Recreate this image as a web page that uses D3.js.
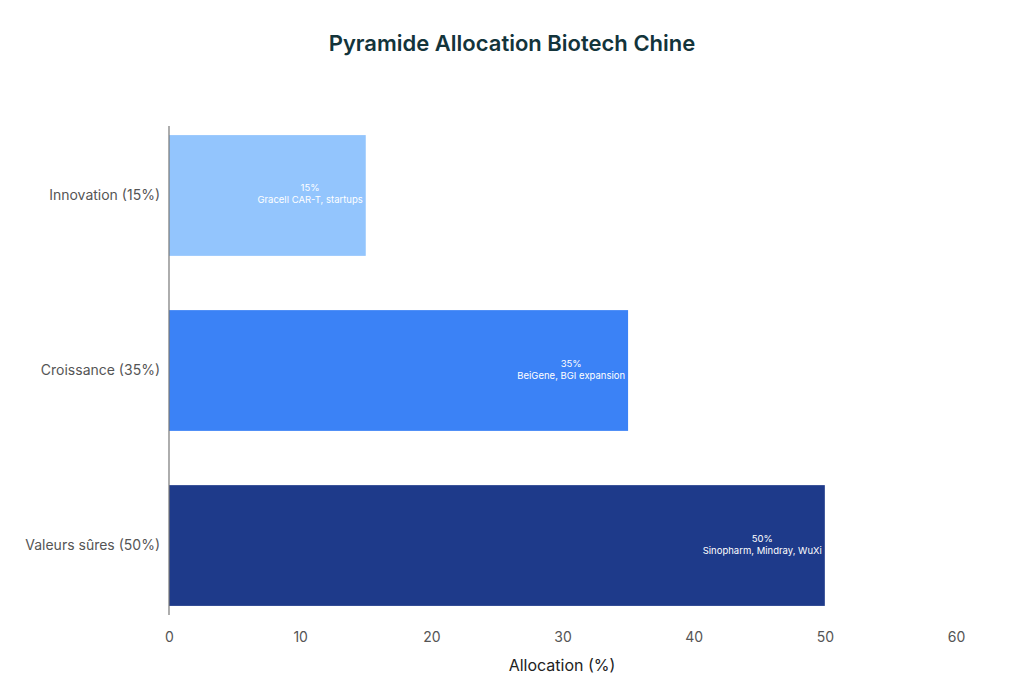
<!DOCTYPE html>
<html><head><meta charset="utf-8">
<script src="https://cdn.jsdelivr.net/npm/d3@7"></script>
<style>body{margin:0;background:#fff;font-family:Inter,"Noto Sans",sans-serif}</style>
</head><body><svg id="c" width="1024" height="683"></svg>
<script>
const categories = ["Innovation (15%)", "Croissance (35%)", "Valeurs sûres (50%)"];
const values = [15, 35, 50];
const labels = [["15%", "Gracell CAR-T, startups"], ["35%", "BeiGene, BGI expansion"], ["50%", "Sinopharm, Mindray, WuXi"]];
const colors = ["#93c5fd", "#3b82f6", "#1e3a8a"];
const ticks = [0, 10, 20, 30, 40, 50, 60];

const svg = d3.select("#c");
const x = d3.scaleLinear().domain([0, 60]).range([169, 956]);
const y = d3.scaleBand().domain(categories).range([126, 615]).paddingInner(0.31).paddingOuter(0.052);

svg.append("text").attr("x", 512).attr("y", 51).attr("text-anchor", "middle")
  .attr("font-size", 22).attr("font-weight", 600).attr("fill", "#13343b").text("Pyramide Allocation Biotech Chine");

svg.selectAll("rect.bar").data(values).join("rect")
  .attr("x", x(0)).attr("y", (d, i) => y(categories[i])).attr("width", d => x(d) - x(0))
  .attr("height", y.bandwidth()).attr("fill", (d, i) => colors[i]);

svg.append("line").attr("x1", x(0)).attr("x2", x(0)).attr("y1", 126).attr("y2", 615).attr("stroke", "#777").attr("stroke-width", 1.2);

const xa = svg.append("g").attr("transform", "translate(0,615)").call(d3.axisBottom(x).tickValues(ticks).tickSize(0).tickPadding(17));
xa.select(".domain").remove();
xa.selectAll("text").attr("font-size", 14).attr("fill", "#555").attr("font-family", "Inter,sans-serif");

const ya = svg.append("g").attr("transform", "translate(169,0)").call(d3.axisLeft(y).tickSize(0).tickPadding(9));
ya.select(".domain").remove();
ya.selectAll("text").attr("font-size", 14).attr("fill", "#555").attr("font-family", "Inter,sans-serif");

svg.append("text").attr("x", 562).attr("y", 671).attr("text-anchor", "middle").attr("font-size", 16).attr("fill", "#222").text("Allocation (%)");

values.forEach((v, i) => {
  const g = svg.append("g");
  const cy = y(categories[i]) + y.bandwidth() / 2;
  const ts = labels[i].map((t, j) => g.append("text").attr("y", cy - 4 + j * 12).attr("font-size", 9.5).attr("fill", "#fff").attr("text-anchor", "middle").text(t));
  const w = d3.max(ts, t => t.node().getComputedTextLength());
  const cx = x(v) - 3 - w / 2;
  ts.forEach(t => t.attr("x", cx));
});
</script></body></html>
